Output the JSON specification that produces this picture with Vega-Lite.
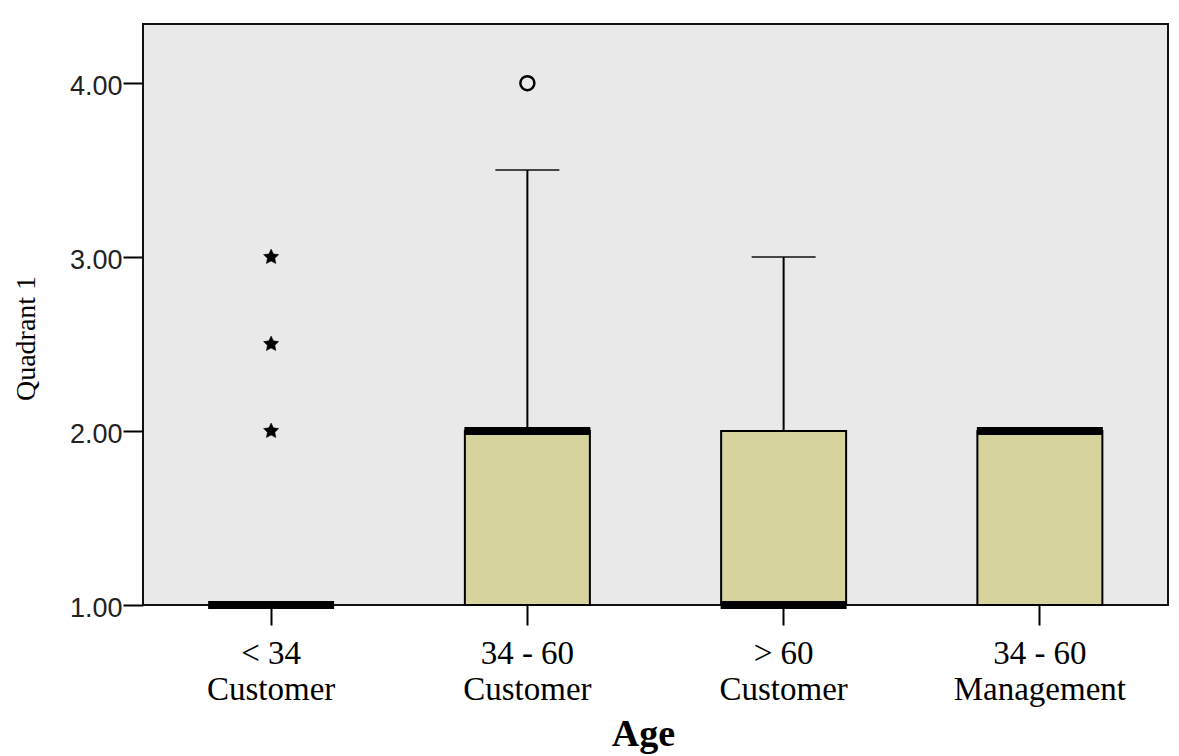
{
  "$schema": "https://vega.github.io/schema/vega-lite/v6.json",
  "autosize": {"type": "none"},
  "padding": {"left": 143, "top": 24, "right": 11, "bottom": 151},
  "width": 1025,
  "height": 581,
  "background": "white",
  "datasets": {
    "boxes": [
      {"group": "< 34 Customer", "lower": 1, "q1": 1, "median": 1, "q3": 1, "upper": 1},
      {"group": "34 - 60 Customer", "lower": 1, "q1": 1, "median": 2, "q3": 2, "upper": 3.5},
      {"group": "> 60 Customer", "lower": 1, "q1": 1, "median": 1, "q3": 2, "upper": 3},
      {"group": "34 - 60 Management", "lower": 1, "q1": 1, "median": 2, "q3": 2, "upper": 2}
    ],
    "outliers": [
      {"group": "< 34 Customer", "value": 2, "kind": "extreme"},
      {"group": "< 34 Customer", "value": 2.5, "kind": "extreme"},
      {"group": "< 34 Customer", "value": 3, "kind": "extreme"},
      {"group": "34 - 60 Customer", "value": 4, "kind": "outlier"}
    ]
  },
  "encoding": {
    "x": {
      "field": "group",
      "type": "nominal",
      "sort": ["< 34 Customer", "34 - 60 Customer", "> 60 Customer", "34 - 60 Management"],
      "scale": {"paddingInner": 0, "paddingOuter": 0},
      "axis": {
        "title": "Age",
        "labelExpr": "[slice(datum.value, 0, lastindexof(datum.value, ' ')), slice(datum.value, lastindexof(datum.value, ' ') + 1)]",
        "labelAngle": 0,
        "labelFont": "Liberation Serif",
        "labelFontSize": 33,
        "labelColor": "#000000",
        "labelLineHeight": 36,
        "labelBaseline": "top",
        "labelPadding": 12,
        "labelLimit": 0,
        "labelOverlap": false,
        "tickSize": 20,
        "tickWidth": 2,
        "tickColor": "#000000",
        "domain": false,
        "titleFont": "Liberation Serif",
        "titleFontSize": 38,
        "titleFontWeight": "bold",
        "titleColor": "#000000",
        "titleX": 500,
        "titleY": 140,
        "titleAlign": "center",
        "titleBaseline": "alphabetic"
      }
    }
  },
  "layer": [
    {
      "data": {"name": "boxes"},
      "transform": [{"filter": "datum.upper > datum.q3"}],
      "mark": {"type": "rule", "color": "#000000", "strokeWidth": 2},
      "encoding": {
        "y": {
          "field": "q3",
          "type": "quantitative",
          "scale": {"domain": [1, 4.34], "nice": false, "zero": false},
          "axis": {
            "title": "Quadrant 1",
            "values": [1, 2, 3, 4],
            "format": ".2f",
            "labelFont": "Liberation Sans",
            "labelFontSize": 27,
            "labelColor": "#222222",
            "labelPadding": 1,
            "labelOffset": 3,
            "tickSize": 20,
            "tickWidth": 2,
            "tickColor": "#000000",
            "domain": false,
            "grid": false,
            "titleFont": "Liberation Serif",
            "titleFontSize": 28,
            "titleFontWeight": "normal",
            "titleColor": "#000000",
            "titlePadding": 29,
            "titleY": 314
          }
        },
        "y2": {"field": "upper"}
      }
    },
    {
      "data": {"name": "boxes"},
      "transform": [{"filter": "datum.upper > datum.q3"}],
      "mark": {"type": "tick", "color": "#000000", "thickness": 2, "size": 64, "orient": "horizontal"},
      "encoding": {
        "y": {"field": "upper", "type": "quantitative"}
      }
    },
    {
      "data": {"name": "boxes"},
      "mark": {"type": "bar", "fill": "#d6d39d", "stroke": "#000000", "strokeWidth": 2, "size": 125},
      "encoding": {
        "y": {"field": "q1", "type": "quantitative"},
        "y2": {"field": "q3"}
      }
    },
    {
      "data": {"name": "boxes"},
      "mark": {"type": "tick", "color": "#000000", "thickness": 8, "size": 126, "orient": "horizontal", "opacity": 1},
      "encoding": {
        "y": {"field": "median", "type": "quantitative"}
      }
    },
    {
      "data": {"name": "outliers"},
      "mark": {"type": "point", "filled": false, "opacity": 1},
      "encoding": {
        "y": {"field": "value", "type": "quantitative"},
        "shape": {
          "field": "kind",
          "type": "nominal",
          "scale": {
            "domain": ["outlier", "extreme"],
            "range": ["circle", "M0,-1L0.29,-0.4L0.951,-0.309L0.47,0.153L0.588,0.809L0,0.5L-0.588,0.809L-0.47,0.153L-0.951,-0.309L-0.29,-0.4Z"]
          },
          "legend": null
        },
        "size": {
          "field": "kind",
          "type": "nominal",
          "scale": {"domain": ["outlier", "extreme"], "range": [196, 256]},
          "legend": null
        },
        "fill": {
          "field": "kind",
          "type": "nominal",
          "scale": {"domain": ["outlier", "extreme"], "range": ["transparent", "#000000"]},
          "legend": null
        },
        "stroke": {
          "field": "kind",
          "type": "nominal",
          "scale": {"domain": ["outlier", "extreme"], "range": ["#000000", "#000000"]},
          "legend": null
        },
        "strokeWidth": {
          "field": "kind",
          "type": "nominal",
          "scale": {"domain": ["outlier", "extreme"], "range": [2.5, 0.5]},
          "legend": null
        }
      }
    }
  ],
  "config": {
    "view": {"fill": "#e9e9e9", "stroke": "#111111", "strokeWidth": 2},
    "font": "Liberation Serif"
  }
}
